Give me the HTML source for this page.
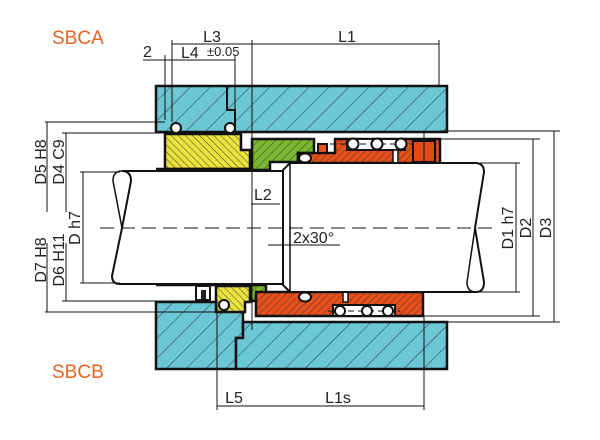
<!DOCTYPE html>
<html><head><meta charset="utf-8"><style>
html,body{margin:0;padding:0;background:#fff;}
svg{display:block;}
text{font-family:"Liberation Sans","DejaVu Sans",sans-serif;fill:#222;}
</style></head><body>
<svg width="600" height="440" viewBox="0 0 600 440" xmlns="http://www.w3.org/2000/svg">
<defs>
<pattern id="hb" width="14" height="14" patternUnits="userSpaceOnUse" patternTransform="rotate(45)">
<rect width="14" height="14" fill="#6cc7d4"/><line x1="0" y1="0" x2="0" y2="14" stroke="#2a3a40" stroke-width="1"/></pattern>
<pattern id="hy" width="5" height="5" patternUnits="userSpaceOnUse" patternTransform="rotate(-45)">
<rect width="5" height="5" fill="#e9e23c"/><line x1="0" y1="0" x2="0" y2="5" stroke="#333" stroke-width="0.9"/></pattern>
<pattern id="hg" width="6" height="6" patternUnits="userSpaceOnUse" patternTransform="rotate(45)">
<rect width="6" height="6" fill="#79b72e"/><line x1="0" y1="0" x2="0" y2="6" stroke="#333" stroke-width="0.9"/></pattern>
<pattern id="hr" width="5" height="5" patternUnits="userSpaceOnUse" patternTransform="rotate(45)">
<rect width="5" height="5" fill="#e8501e"/><line x1="0" y1="0" x2="0" y2="5" stroke="#333" stroke-width="0.9"/></pattern>
</defs>

<text x="52" y="44" font-size="19" style="fill:#e8621f">SBCA</text>
<text x="52" y="378" font-size="19" style="fill:#e8621f">SBCB</text>

<!-- top housing -->
<rect x="156" y="86" width="291" height="46" fill="url(#hb)" stroke="#111" stroke-width="2.5"/>
<polyline points="227,86 227,110 235,110 235,132" fill="none" stroke="#111" stroke-width="2"/>
<!-- bottom housing -->
<polygon points="156,302 243,302 243,338 236,338 236,369 156,369" fill="url(#hb)" stroke="#111" stroke-width="2.5"/>
<polygon points="250,322 447,322 447,369 236,369 236,338 243,338 243,322" fill="url(#hb)" stroke="#111" stroke-width="2.5"/>

<!-- top yellow -->
<polygon points="165,134 241,134 241,150 250,150 250,169 165,169" fill="url(#hy)" stroke="#111" stroke-width="2.5"/>
<circle cx="176" cy="128" r="5" fill="#fff" stroke="#111" stroke-width="2"/>
<circle cx="230" cy="128" r="5" fill="#fff" stroke="#111" stroke-width="2"/>
<!-- top green -->
<polygon points="252,139 314,139 314,153 298,153 298,162 270,162 270,170 252,170" fill="url(#hg)" stroke="#111" stroke-width="2.5"/>
<!-- top red -->
<polygon points="335,139 440,139 440,163 298,163 298,153 335,153" fill="url(#hr)" stroke="#111" stroke-width="2.5"/>
<rect x="318" y="144" width="9" height="9" fill="#e8501e" stroke="#111" stroke-width="2"/>
<rect x="347" y="139" width="58" height="11" fill="#fff" stroke="#111" stroke-width="2"/>
<rect x="393" y="150" width="5" height="13" fill="#fff" stroke="#111" stroke-width="1.5"/>
<line x1="330" y1="144" x2="412" y2="144" stroke="#111" stroke-width="1" stroke-dasharray="6,4"/>
<circle cx="353" cy="144" r="5.5" fill="#fff" stroke="#111" stroke-width="2"/>
<circle cx="377" cy="144" r="5.5" fill="#fff" stroke="#111" stroke-width="2"/>
<circle cx="401" cy="144" r="5.5" fill="#fff" stroke="#111" stroke-width="2"/>
<rect x="413" y="141" width="22" height="21" fill="#e04a18" stroke="#111" stroke-width="2"/>
<line x1="424" y1="131" x2="424" y2="172" stroke="#111" stroke-width="1"/>
<ellipse cx="305" cy="158" rx="6" ry="4.5" fill="#fff" stroke="#111" stroke-width="2"/>

<!-- bottom yellow -->
<polygon points="216,286 250,286 250,302 245,302 245,312 216,312" fill="url(#hy)" stroke="#111" stroke-width="2.5"/>
<rect x="196" y="286" width="14" height="14" fill="#fff" stroke="#111" stroke-width="2"/>
<rect x="201" y="290" width="5" height="9" fill="#222"/>
<circle cx="224" cy="305" r="5" fill="#fff" stroke="#111" stroke-width="2"/>
<!-- bottom green -->
<rect x="251" y="285" width="15" height="16" fill="url(#hg)" stroke="#111" stroke-width="2.5"/>
<!-- bottom red -->
<polygon points="256,292 423,292 423,316 256,316" fill="url(#hr)" stroke="#111" stroke-width="2.5"/>
<rect x="333" y="305" width="62" height="11" fill="#fff" stroke="#111" stroke-width="2"/>
<rect x="343" y="292" width="5" height="10" fill="#fff" stroke="#111" stroke-width="1.5"/>
<line x1="328" y1="311" x2="400" y2="311" stroke="#111" stroke-width="1" stroke-dasharray="6,4"/>
<circle cx="340" cy="311" r="5" fill="#fff" stroke="#111" stroke-width="2"/>
<circle cx="367" cy="311" r="5" fill="#fff" stroke="#111" stroke-width="2"/>
<circle cx="388" cy="311" r="5" fill="#fff" stroke="#111" stroke-width="2"/>
<ellipse cx="305" cy="297" rx="6" ry="4.5" fill="#fff" stroke="#111" stroke-width="2"/>

<!-- shafts -->
<path d="M122,171 L283,171 L283,284 L120,284 Q112,284 112,276 L122,228 L131,181 Q131,171 122,171 Z" fill="#fff" stroke="#111" stroke-width="2"/>
<path d="M122,171 Q113,171 113,181 L122,228" fill="none" stroke="#111" stroke-width="1.5"/>
<path d="M290,163 L475,163 Q484,163 484,172 L475,228 L484,282 Q484,292 476,292 L290,292 L283,285 L283,170 Z" fill="#fff" stroke="#111" stroke-width="2"/>
<path d="M475,228 L467,282 Q467,292 476,292" fill="none" stroke="#111" stroke-width="1.5"/>
<line x1="290" y1="163" x2="290" y2="292" stroke="#111" stroke-width="1.5"/>
<line x1="156" y1="169" x2="252" y2="169" stroke="#111" stroke-width="2.5"/>
<line x1="156" y1="285" x2="256" y2="285" stroke="#111" stroke-width="2.5"/>
<line x1="100" y1="228" x2="495" y2="228" stroke="#111" stroke-width="1" stroke-dasharray="14,7"/>

<!-- left dims -->
<g stroke="#111" stroke-width="1" fill="none">
<line x1="45" y1="122" x2="165" y2="122"/><line x1="62" y1="133" x2="165" y2="133"/>
<line x1="80" y1="172" x2="120" y2="172"/><line x1="80" y1="283" x2="120" y2="283"/>
<line x1="62" y1="301" x2="200" y2="301"/><line x1="45" y1="312" x2="216" y2="312"/>
<line x1="47" y1="122" x2="47" y2="212"/><line x1="47" y1="243" x2="47" y2="312"/>
<line x1="66" y1="133" x2="66" y2="212"/><line x1="66" y1="243" x2="66" y2="301"/>
<line x1="83" y1="172" x2="83" y2="283"/>
<!-- right dims -->
<line x1="440" y1="131" x2="560" y2="131"/><line x1="440" y1="139" x2="540" y2="139"/>
<line x1="480" y1="163" x2="520" y2="163"/><line x1="470" y1="292" x2="520" y2="292"/>
<line x1="423" y1="316" x2="540" y2="316"/><line x1="447" y1="322" x2="560" y2="322"/>
<line x1="516" y1="163" x2="516" y2="292"/><line x1="533" y1="139" x2="533" y2="316"/><line x1="554" y1="131" x2="554" y2="322"/>
<!-- top dims -->
<line x1="165" y1="55" x2="165" y2="120"/><line x1="172" y1="40" x2="172" y2="122"/>
<line x1="235" y1="55" x2="235" y2="110"/><line x1="252" y1="40" x2="252" y2="330"/>
<line x1="439" y1="40" x2="439" y2="86"/>
<line x1="172" y1="44" x2="252" y2="44"/><line x1="252" y1="44" x2="439" y2="44"/>
<line x1="143" y1="60" x2="235" y2="60"/>
<!-- bottom dims -->
<line x1="217" y1="300" x2="217" y2="410"/><line x1="424" y1="316" x2="424" y2="410"/>
<line x1="217" y1="406" x2="424" y2="406"/>
<!-- L2 / chamfer -->
<line x1="251" y1="204" x2="280" y2="204"/><line x1="268" y1="245" x2="340" y2="245"/>
</g>
<text x="212" y="42" font-size="16" text-anchor="middle">L3</text>
<text x="347" y="42" font-size="16" text-anchor="middle">L1</text>
<text x="143" y="57" font-size="16">2</text>
<text x="181" y="58" font-size="16">L4</text>
<text x="207" y="56" font-size="13">±0.05</text>
<text x="234" y="403" font-size="16" text-anchor="middle">L5</text>
<text x="338" y="403" font-size="16" text-anchor="middle">L1s</text>
<text x="254" y="200" font-size="16">L2</text>
<text x="293" y="243" font-size="16">2x30°</text>
<g font-size="16" text-anchor="middle">
<text transform="translate(46,162) rotate(-90)">D5 H8</text>
<text transform="translate(64,162) rotate(-90)">D4 C9</text>
<text transform="translate(80,228) rotate(-90)">D h7</text>
<text transform="translate(46,260) rotate(-90)">D7 H8</text>
<text transform="translate(64,260) rotate(-90)">D6 H11</text>
<text transform="translate(513,228) rotate(-90)">D1 h7</text>
<text transform="translate(531,228) rotate(-90)">D2</text>
<text transform="translate(551,228) rotate(-90)">D3</text>
</g>
</svg>
</body></html>
